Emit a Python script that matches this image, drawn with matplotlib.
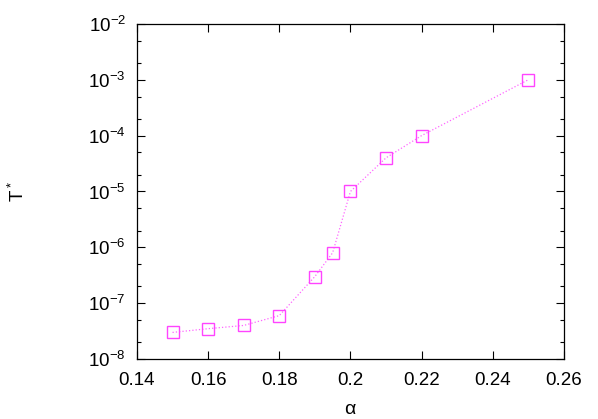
import matplotlib
matplotlib.use('Agg')
import matplotlib.pyplot as plt
from matplotlib.ticker import LogLocator, NullFormatter

# data
alpha = [0.15, 0.16, 0.17, 0.18, 0.19, 0.195, 0.20, 0.21, 0.22, 0.25]
t_star = [3e-8, 3.5e-8, 4e-8, 6e-8, 3e-7, 8e-7, 1e-5, 4e-5, 1e-4, 1e-3]
x_ticks = [0.14, 0.16, 0.18, 0.2, 0.22, 0.24, 0.26]
x_tick_labels = ['0.14', '0.16', '0.18', '0.2', '0.22', '0.24', '0.26']
y_exps = [-8, -7, -6, -5, -4, -3, -2]

plt.rcParams['font.family'] = ['Liberation Sans', 'DejaVu Sans']
plt.rcParams['mathtext.fontset'] = 'custom'
plt.rcParams['mathtext.rm'] = 'Liberation Sans'

fig = plt.figure(figsize=(5.98, 4.19), dpi=100)
ax = fig.add_axes([0.229, 0.143, 0.714, 0.800])

ax.plot(alpha, t_star, color='#ff66ff', linestyle=':', linewidth=0.9,
        marker='s', markersize=8, markerfacecolor='none',
        markeredgecolor='#ff44ff', markeredgewidth=1.0)

ax.set_yscale('log')
ax.set_xlim(0.14, 0.26)
ax.set_ylim(1e-8, 1e-2)
ax.set_xticks(x_ticks)
ax.set_xticklabels(x_tick_labels)
ax.set_yticks([10.0 ** e for e in y_exps])
ax.set_yticklabels([r'$\mathregular{10^{%d}}$' % e for e in y_exps])
ax.yaxis.set_minor_locator(LogLocator(base=10, subs=(2, 5)))
ax.yaxis.set_minor_formatter(NullFormatter())

ax.tick_params(which='both', direction='in', top=True, right=True, labelsize=13.5)
ax.tick_params(axis='x', pad=9)
ax.tick_params(axis='y', pad=8)
ax.tick_params(which='major', length=6, width=0.8)
ax.tick_params(which='minor', length=3, width=0.8)
for s in ax.spines.values():
    s.set_linewidth(0.9)

# axis titles placed like the gnuplot original
fig.text(350 / 598, 1 - 409 / 419, '\u03b1', fontsize=14, ha='center', va='center')
fig.text(18 / 598, 1 - 191 / 419, r'T$^*$', fontsize=13.5, rotation=90,
         ha='center', va='center')

plt.savefig('out.png', dpi=100)
